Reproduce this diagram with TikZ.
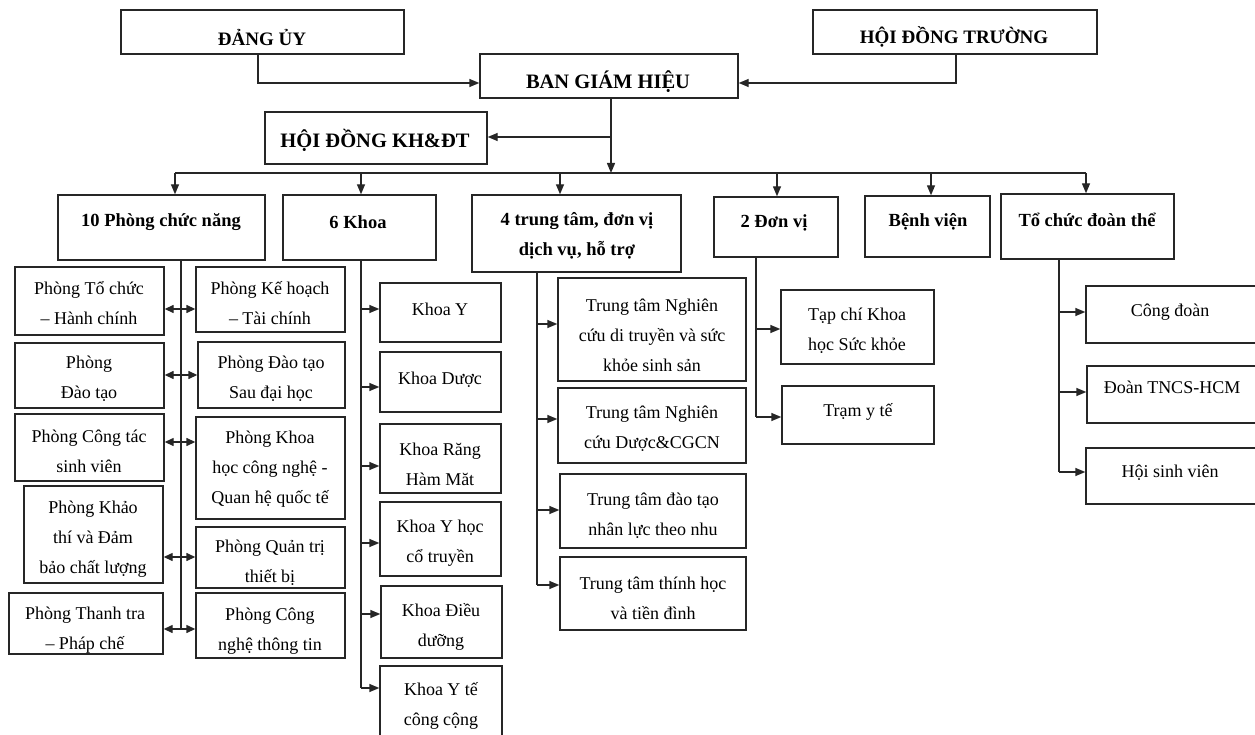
\documentclass[tikz,border=0pt]{standalone}
\usepackage{fontspec}
\setmainfont{Liberation Serif}
\usetikzlibrary{arrows.meta,fit}
\tikzset{
 box/.style={draw=black!85, line width=1.4pt, inner sep=0pt, rectangle},
 txt/.style={align=center, font=\fontsize{18}{30}\selectfont, inner sep=0pt},
 hd/.style={align=center, font=\bfseries\fontsize{18.5}{30}\selectfont, inner sep=0pt},
 tp/.style={font=\bfseries\fontsize{19}{24}\selectfont, inner sep=0pt},
 tpb/.style={font=\bfseries\fontsize{20.5}{24}\selectfont, inner sep=0pt},
 ln/.style={draw=black!85, line width=1.4pt},
 arr/.style={ln, -{Triangle[length=10pt,width=8pt]}},
 darr/.style={ln, {Triangle[length=9pt,width=8pt]}-{Triangle[length=9pt,width=8pt]}},
}
\newcommand\orgbox[6][txt]{\node[box,fit={(#3)(#4)}] (#2) {};\node[#1] (#2t) at (#5) {#6};}
\begin{document}
\begin{tikzpicture}[x=1pt,y=-1pt]
\useasboundingbox (0,0) rectangle (1255,735);
\clip (0,0) rectangle (1255,735);
% top level
\orgbox[tp]{du}{121,10}{404,54}{262,37}{ĐẢNG ỦY}
\orgbox[tp]{hdt}{813,10}{1097,54}{954,37}{HỘI ĐỒNG TRƯỜNG}
\orgbox[tpb]{bgh}{480,54}{738,98}{608,82}{BAN GIÁM HIỆU}
\orgbox[tpb]{kh}{265,112}{487,164}{375,140}{HỘI ĐỒNG KH\&ĐT}
\coordinate (j1) at (258,83);
\coordinate (j2) at (956,83);
\coordinate (j3) at (611,137);
\coordinate (j4) at (611,173);
\draw[arr] (du.south -| j1) -- (j1) -- (bgh.west |- j1);
\draw[arr] (hdt.south -| j2) -- (j2) -- (bgh.east |- j2);
\draw[arr] (j3) -- (kh.east |- j3);
\draw[arr] (bgh.south -| j4) -- (j4);
% headers
\orgbox[hd]{pcn}{58,195}{265,260}{161,222}{10 Phòng chức năng}
\orgbox[hd]{kh6}{283,195}{436,260}{358,222}{6 Khoa}
\orgbox[hd]{tt4}{472,195}{681,272}{577,236}{4 trung tâm, đơn vị\\dịch vụ, hỗ trợ}
\orgbox[hd]{dv2}{714,197}{838,257}{774,223}{2 Đơn vị}
\orgbox[hd]{bv}{865,196}{990,257}{928,222}{Bệnh viện}
\orgbox[hd]{tc}{1001,194}{1174,259}{1087,220}{Tổ chức đoàn thể}
% bus
\coordinate (bL) at (175,173);
\coordinate (bR) at (1086,173);
\coordinate (b2) at (361,173);
\coordinate (b3) at (560,173);
\coordinate (b4) at (777,173);
\coordinate (b5) at (931,173);
\draw[ln] (bL) -- (bR);
\draw[arr] (bL) -- (pcn.north -| bL);
\draw[arr] (b2) -- (kh6.north -| b2);
\draw[arr] (b3) -- (tt4.north -| b3);
\draw[arr] (b4) -- (dv2.north -| b4);
\draw[arr] (b5) -- (bv.north -| b5);
\draw[arr] (bR) -- (tc.north -| bR);
% 10 phong
\orgbox{p1}{15,267}{164,335}{89,303}{Phòng Tổ chức\\– Hành chính}
\orgbox{p2}{196,267}{345,332}{270,303}{Phòng Kế hoạch\\– Tài chính}
\orgbox{p3}{15,343}{164,408}{89,379}{Phòng\\Đào tạo}
\orgbox{p4}{198,342}{345,408}{271,379}{Phòng Đào tạo\\Sau đại học}
\orgbox{p5}{15,414}{164,481}{89,451}{Phòng Công tác\\sinh viên}
\orgbox{p6}{196,417}{345,519}{270,469}{Phòng Khoa\\học công nghệ -\\Quan hệ quốc tế}
\orgbox{p7}{24,486}{163,583}{93,539}{Phòng Khảo\\thí và Đảm\\bảo chất lượng}
\orgbox{p8}{196,527}{345,588}{270,563}{Phòng Quản trị\\thiết bị}
\orgbox{p9}{9,593}{163,654}{85,630}{Phòng Thanh tra\\– Pháp chế}
\orgbox{p10}{196,593}{345,658}{270,631}{Phòng Công\\nghệ thông tin}
\coordinate (v1) at (181,629);
\draw[ln] (pcn.south -| v1) -- (v1);
\coordinate (r1) at (181,309);
\coordinate (r2) at (181,375);
\coordinate (r3) at (181,442);
\coordinate (r4) at (181,557);
\coordinate (r5) at (181,629);
\draw[darr] (p1.east |- r1) -- (p2.west |- r1);
\draw[darr] (p3.east |- r2) -- (p4.west |- r2);
\draw[darr] (p5.east |- r3) -- (p6.west |- r3);
\draw[darr] (p7.east |- r4) -- (p8.west |- r4);
\draw[darr] (p9.east |- r5) -- (p10.west |- r5);
% 6 khoa
\orgbox{k1}{380,283}{501,342}{440,309}{Khoa Y}
\orgbox{k2}{380,352}{501,412}{440,380}{Khoa Dược}
\orgbox{k3}{380,424}{501,493}{440,464}{Khoa Răng\\Hàm Măt}
\orgbox{k4}{380,502}{501,576}{440,543}{Khoa Y học\\cổ truyền}
\orgbox{k5}{381,586}{502,658}{441,627}{Khoa Điều\\dưỡng}
\orgbox{k6}{380,666}{502,745}{441,706}{Khoa Y tế\\công cộng}
\coordinate (v2) at (361,688);
\draw[ln] (kh6.south -| v2) -- (v2);
\coordinate (s1) at (361,309);
\coordinate (s2) at (361,387);
\coordinate (s3) at (361,466);
\coordinate (s4) at (361,543);
\coordinate (s5) at (361,614);
\draw[arr] (s1) -- (k1.west |- s1);
\draw[arr] (s2) -- (k2.west |- s2);
\draw[arr] (s3) -- (k3.west |- s3);
\draw[arr] (s4) -- (k4.west |- s4);
\draw[arr] (s5) -- (k5.west |- s5);
\draw[arr] (v2) -- (k6.west |- v2);
% 4 trung tam
\orgbox{t1}{558,278}{746,381}{652,335}{Trung tâm Nghiên\\cứu di truyền và sức\\khỏe sinh sản}
\orgbox{t2}{558,388}{746,463}{652,429}{Trung tâm Nghiên\\cứu Dược\&CGCN}
\orgbox{t3}{560,474}{746,548}{653,516}{Trung tâm đào tạo\\nhân lực theo nhu}
\orgbox{t4}{560,557}{746,630}{653,598}{Trung tâm thính học\\và tiền đình}
\coordinate (v3) at (537,585);
\draw[ln] (tt4.south -| v3) -- (v3);
\coordinate (u1) at (537,324);
\coordinate (u2) at (537,419);
\coordinate (u3) at (537,510);
\draw[arr] (u1) -- (t1.west |- u1);
\draw[arr] (u2) -- (t2.west |- u2);
\draw[arr] (u3) -- (t3.west |- u3);
\draw[arr] (v3) -- (t4.west |- v3);
% 2 don vi
\orgbox{d1}{781,290}{934,364}{857,331}{Tạp chí Khoa\\học Sức khỏe}
\orgbox{d2}{782,386}{934,444}{858,412}{Trạm y tế}
\coordinate (v4) at (756,417);
\draw[ln] (dv2.south -| v4) -- (v4);
\coordinate (w1) at (756,329);
\draw[arr] (w1) -- (d1.west |- w1);
\draw[arr] (v4) -- (d2.west |- v4);
% to chuc doan the
\orgbox{o1}{1086,286}{1265,343}{1170,312}{Công đoàn}
\orgbox{o2}{1087,366}{1265,423}{1172,387}{Đoàn TNCS-HCM}
\orgbox{o3}{1086,448}{1265,504}{1170,473}{Hội sinh viên}
\coordinate (v5) at (1059,472);
\draw[ln] (tc.south -| v5) -- (v5);
\coordinate (q1) at (1059,312);
\coordinate (q2) at (1059,392);
\draw[arr] (q1) -- (o1.west |- q1);
\draw[arr] (q2) -- (o2.west |- q2);
\draw[arr] (v5) -- (o3.west |- v5);
\end{tikzpicture}
\end{document}
